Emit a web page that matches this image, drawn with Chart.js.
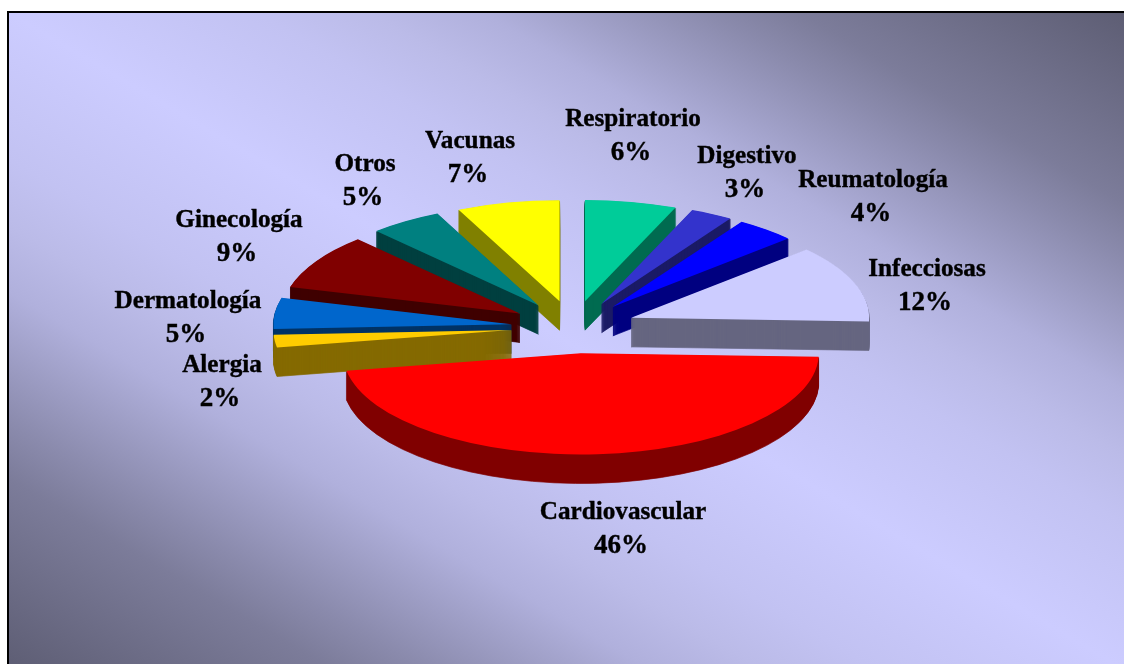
<!DOCTYPE html>
<html>
<head>
<meta charset="utf-8">
<title>Pie</title>
<script src="https://cdn.jsdelivr.net/npm/chart.js@4"></script>
<style>
  html, body { margin: 0; padding: 0; background: #fff; overflow: hidden; }
  #frame {
    position: absolute; left: 7px; top: 11px; width: 1130px; height: 665px;
    border-left: 2px solid #000; border-top: 2px solid #000;
    background: linear-gradient(to top right, #5c5c72 0%, #7c7c9a 15%, #8a8aac 19%, #b0b0dc 29%, #bbbbe8 34%, #c2c2f2 39%, #ccccff 50%, #c2c2f2 61%, #bbbbe8 66%, #b0b0dc 71%, #8a8aac 81%, #7c7c9a 85%, #5c5c72 100%);
  }
  #pie { position: absolute; left: 0; top: 0; }
</style>
</head>
<body>
<div id="frame"></div>
<canvas id="pie" width="1124" height="664"></canvas>
<script>
'use strict';

const categories = ['Respiratorio', 'Digestivo', 'Reumatología', 'Infecciosas', 'Cardiovascular',
  'Alergia', 'Dermatología', 'Ginecología', 'Otros', 'Vacunas'];
const values = [6.15, 2.85, 4.05, 12.25, 46.2, 2, 4.9, 8.8, 4.9, 6.9];
const topColors = ['#00cc99', '#3333cc', '#0000ff', '#ccccff', '#ff0000',
  '#ffcc00', '#0066cc', '#800000', '#008080', '#ffff00'];
const sideColors = ['#006b50', '#1b1b66', '#000080', '#666680', '#800000',
  '#856a00', '#003366', '#400000', '#004040', '#808000'];

// label centres, first line baseline
const labelX = [633, 747, 873, 927, 623, 222, 188, 239, 365, 470];
const labelY = [126, 163, 187, 276, 519, 372, 308, 227, 171, 148];

const CENTER_X = 573, CENTER_Y = 327;
const SQUASH = 0.425, DEPTH = 29, EXPLODE = 62;
const RED_NUDGE = 3.5; // the big slice sits a bit right of where its angle puts it

// Chart.js has no 3d pie, so the arc elements get drawn through a squashed context
const pie3d = {
  id: 'pie3d',
  beforeDatasetDraw(chart, args) {
    const ctx = chart.ctx;
    const midAngle = arc => (arc.startAngle + arc.endAngle) / 2;
    const arcs = chart.getDatasetMeta(args.index).data.map((arc, i) => ({ arc, i }));
    arcs.sort((a, b) => Math.sin(midAngle(a.arc)) - Math.sin(midAngle(b.arc)));

    arcs.forEach(({ arc, i }) => {
      const top = arc.options;
      // thin stroke on the side layers keeps the wedge tips solid
      const side = Object.assign({}, top, {
        backgroundColor: sideColors[i],
        borderColor: sideColors[i],
        borderWidth: 1,
        borderJoinStyle: 'round'
      });
      const mid = midAngle(arc);
      const nudge = i === 4 ? RED_NUDGE : 0;
      for (let d = DEPTH; d >= 0; d--) {
        ctx.save();
        ctx.translate(CENTER_X + nudge, CENTER_Y + d);
        ctx.scale(1, SQUASH);
        ctx.translate(Math.cos(mid) * EXPLODE - arc.x, Math.sin(mid) * EXPLODE - arc.y);
        arc.options = d === 0 ? top : side;
        arc.draw(ctx);
        ctx.restore();
      }
      arc.options = top;
    });
    return false;
  },
  afterDraw(chart) {
    const ctx = chart.ctx;
    ctx.save();
    ctx.fillStyle = '#000';
    ctx.strokeStyle = '#000';
    ctx.lineWidth = 0.4;
    ctx.textAlign = 'center';
    categories.forEach((name, i) => {
      const pct = Math.round(values[i]) + '%';
      ctx.font = "bold 25.2px 'Liberation Serif'";
      ctx.fillText(name, labelX[i], labelY[i]);
      ctx.strokeText(name, labelX[i], labelY[i]);
      ctx.font = "bold 27px 'Liberation Serif'";
      ctx.fillText(pct, labelX[i] - 2, labelY[i] + 34);
      ctx.strokeText(pct, labelX[i] - 2, labelY[i] + 34);
    });
    ctx.restore();
  }
};

new Chart(document.getElementById('pie'), {
  type: 'pie',
  data: {
    labels: categories,
    datasets: [{
      data: values,
      backgroundColor: topColors,
      borderWidth: 0,
      clip: false
    }]
  },
  options: {
    responsive: false,
    animation: false,
    events: [],
    radius: 238,
    plugins: { legend: { display: false }, tooltip: { enabled: false } }
  },
  plugins: [pie3d]
});
</script>
</body>
</html>
